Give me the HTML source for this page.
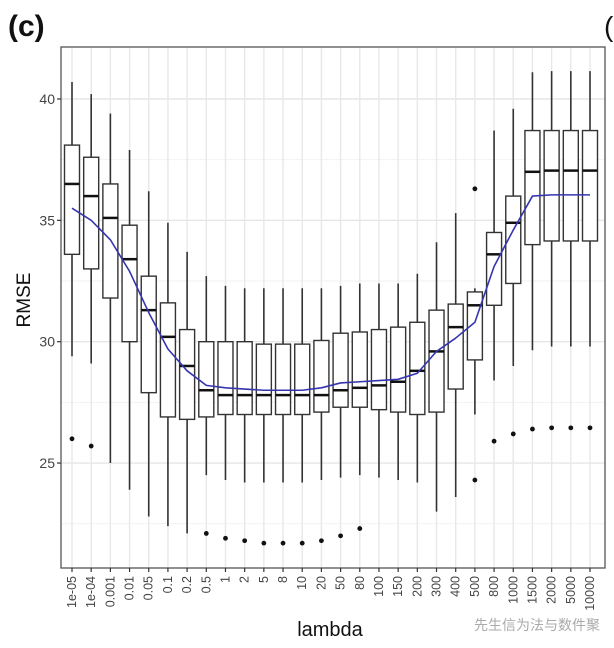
<!DOCTYPE html>
<html><head><meta charset="utf-8"><style>
body{margin:0;background:#fff;width:614px;height:643px;overflow:hidden;font-family:"Liberation Sans","Noto Sans CJK SC",sans-serif}
</style></head><body>
<svg id="c" width="614" height="643" xmlns="http://www.w3.org/2000/svg">
<text x="8" y="36" font-size="30" font-weight="bold" fill="#111">(c)</text>
<text x="604" y="36" font-size="28" fill="#111">(</text>
<text transform="translate(30,300) rotate(-90)" text-anchor="middle" font-size="19" fill="#111">RMSE</text>
<text x="330" y="636" text-anchor="middle" font-size="20" fill="#111">lambda</text>
<text x="600" y="630" text-anchor="end" font-size="14" fill="#aaa">先生信为法与数件聚</text>
<g id="g"></g>
</svg>
<script>
const categories=["1e-05","1e-04","0.001","0.01","0.05","0.1","0.2","0.5","1","2","5","8","10","20","50","80","100","150","200","300","400","500","800","1000","1500","2000","5000","10000"];
const lowWhisker=[29.4,29.1,25.0,23.9,22.8,22.4,22.1,24.5,24.3,24.2,24.2,24.2,24.2,24.3,24.4,24.5,24.4,24.3,24.2,23.0,23.6,27.0,28.4,29.0,29.65,29.8,29.8,29.8];
const q1=[33.6,33.0,31.8,30.0,27.9,26.9,26.8,26.9,27.0,27.0,27.0,27.0,27.0,27.1,27.3,27.3,27.2,27.1,27.0,27.1,28.05,29.25,31.5,32.4,34.0,34.15,34.15,34.15];
const medians=[36.5,36.0,35.1,33.4,31.3,30.2,29.0,28.0,27.8,27.8,27.8,27.8,27.8,27.8,28.0,28.1,28.2,28.35,28.8,29.6,30.6,31.5,33.6,34.9,37.0,37.05,37.05,37.05];
const q3=[38.1,37.6,36.5,34.8,32.7,31.6,30.5,30.0,30.0,30.0,29.9,29.9,29.9,30.05,30.35,30.4,30.5,30.6,30.8,31.3,31.55,32.05,34.5,36.0,38.7,38.7,38.7,38.7];
const highWhisker=[40.7,40.2,39.4,37.9,36.2,34.9,33.7,32.7,32.3,32.2,32.2,32.2,32.2,32.2,32.3,32.4,32.4,32.4,32.8,34.1,35.3,32.2,38.7,39.6,41.1,41.15,41.15,41.15];
const outliers=[[26.0],[25.7],[],[],[],[],[],[22.1],[21.9],[21.8],[21.7],[21.7],[21.7],[21.8],[22.0],[22.3],[],[],[],[],[],[36.3,24.3],[25.9],[26.2],[26.4],[26.45],[26.45],[26.45]];
const meanLine=[35.5,35.0,34.2,32.9,31.2,29.7,28.8,28.2,28.1,28.05,28.0,28.0,28.0,28.1,28.3,28.35,28.4,28.45,28.7,29.6,30.15,30.8,33.1,34.6,36.0,36.05,36.05,36.05];
const yTicks=[25,30,35,40];

const L=61,R=605,T=47,B=568,x0=72,x1=590;
const n=categories.length;
const X=i=>x0+i*(x1-x0)/(n-1);
const Y=v=>341.7-(v-30)*24.27;
const g=document.getElementById('g');
const NS='http://www.w3.org/2000/svg';
function mk(t,a){const e=document.createElementNS(NS,t);for(const k in a)e.setAttribute(k,a[k]);g.appendChild(e);return e;}
for(let v=22.5;v<=42;v+=2.5){const e=mk('line',{x1:L,x2:R,y1:Y(v),y2:Y(v),stroke:v%5===0?'#e6e6e6':'#f2f2f2','stroke-width':v%5===0?1.4:1});

}
categories.forEach((c,i)=>{const e=mk('line',{x1:X(i),x2:X(i),y1:T,y2:B,stroke:'#e8e8e8','stroke-width':1.4});

});
const bw=15;
categories.forEach((c,i)=>{const x=X(i);
const w=mk('line',{x1:x,x2:x,y1:Y(highWhisker[i]),y2:Y(lowWhisker[i]),stroke:'#333','stroke-width':1.6});


const b=mk('rect',{x:x-bw/2,y:Y(q3[i]),width:bw,height:Y(q1[i])-Y(q3[i]),fill:'#fff',stroke:'#333','stroke-width':1.4});


const m=mk('line',{x1:x-bw/2,x2:x+bw/2,y1:Y(medians[i]),y2:Y(medians[i]),stroke:'#111','stroke-width':2.5});


outliers[i].forEach(o=>{const p=mk('circle',{cx:x,cy:Y(o),r:2.4,fill:'#111'});

});
});
const pl=mk('polyline',{points:meanLine.map((v,i)=>X(i)+','+Y(v)).join(' '),fill:'none',stroke:'#3535b0','stroke-width':1.6,'stroke-linejoin':'round'});


const fr=mk('rect',{x:L,y:T,width:R-L,height:B-T,fill:'none',stroke:'#555','stroke-width':1.3});


yTicks.forEach(v=>{const t=mk('line',{x1:L-4,x2:L,y1:Y(v),y2:Y(v),stroke:'#333','stroke-width':1.2});


const l=mk('text',{x:L-6,y:Y(v)+5,'text-anchor':'end','font-size':14,fill:'#444'});l.textContent=v;

});
categories.forEach((c,i)=>{const x=X(i);
const t=mk('line',{x1:x,x2:x,y1:B,y2:B+4,stroke:'#333','stroke-width':1.2});


const l=mk('text',{transform:`translate(${x+4},${B+8}) rotate(-90)`,'text-anchor':'end','font-size':12.5,fill:'#444'});l.textContent=c;

});
</script>
</body></html>
